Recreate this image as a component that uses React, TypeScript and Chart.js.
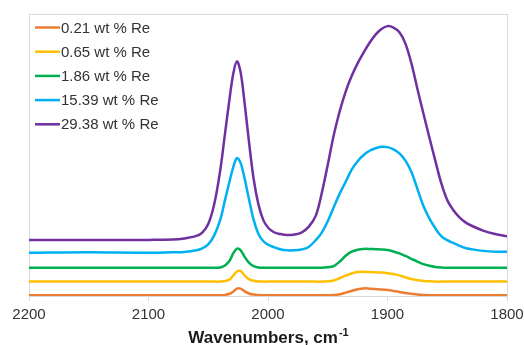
import React, { useEffect, useRef } from "react";
import { Chart, registerables } from "chart.js";

Chart.register(...registerables);

const wavenumbers = [
  2200, 2150, 2100, 2080, 2070, 2060, 2055, 2050, 2045, 2040, 2036, 2032, 2029, 2026, 2023, 2020,
  2016, 2012, 2008, 2004, 2000, 1995, 1990, 1984, 1978, 1972, 1966, 1960, 1955, 1950, 1945, 1940,
  1935, 1930, 1925, 1920, 1915, 1910, 1905, 1900, 1895, 1890, 1885, 1880, 1875, 1870, 1865, 1860,
  1855, 1850, 1845, 1840, 1835, 1830, 1820, 1810, 1800,
];

const re029_38 = [
  19.9, 19.9, 19.9, 20.0, 20.4, 21.3, 22.5, 25.5, 32.5, 44.5, 57.5, 70.5, 79.0, 83.2, 79.5, 70.0,
  55.0, 41.5, 32.5, 27.0, 24.3, 22.6, 22.0, 21.6, 21.8, 22.5, 24.5, 28.5, 36.5, 46.5, 57.0, 65.5,
  72.5, 78.0, 82.5, 86.3, 89.8, 92.7, 94.7, 95.7, 95.2, 93.5, 89.5, 82.5, 73.5, 64.8, 56.3, 48.0,
  40.0, 34.0, 30.5, 28.0, 26.2, 25.0, 23.2, 22.0, 21.2,
];

const re15_39 = [
  15.3, 15.5, 15.3, 15.5, 15.6, 16.2, 16.9, 18.3, 21.5, 27.0, 34.0, 41.0, 45.8, 48.9, 47.3, 42.5,
  34.5, 27.0, 22.0, 19.5, 18.2, 17.3, 16.6, 16.2, 16.2, 16.5, 17.4, 19.8, 22.5, 26.5, 31.5, 36.3,
  40.5, 44.8, 47.8, 50.0, 51.5, 52.4, 52.9, 52.8, 52.0, 50.6, 48.0, 44.0, 38.0, 32.0, 27.5, 24.0,
  21.2, 19.8, 18.8, 17.8, 17.0, 16.6, 16.0, 15.7, 15.7,
];

const re1_86 = [
  10.0, 10.0, 10.0, 10.0, 10.0, 10.0, 10.0, 10.0, 10.0, 10.1, 10.8, 12.6, 15.2, 16.8, 16.3, 14.2,
  11.8, 10.6, 10.1, 10.0, 10.0, 10.0, 10.0, 10.0, 10.0, 10.0, 10.0, 10.0, 10.0, 10.2, 10.6, 12.2,
  14.3, 15.7, 16.4, 16.7, 16.7, 16.6, 16.5, 16.3, 15.8, 15.1, 14.2, 13.2, 12.2, 11.3, 10.7, 10.3,
  10.1, 10.0, 10.0, 10.0, 10.0, 10.0, 10.0, 10.0, 10.0,
];

const re0_65 = [
  5.1, 5.1, 5.1, 5.1, 5.1, 5.1, 5.1, 5.1, 5.1, 5.1, 5.3, 5.9, 7.3, 8.7, 8.9, 7.5,
  6.0, 5.4, 5.15, 5.1, 5.1, 5.1, 5.1, 5.1, 5.1, 5.1, 5.1, 5.1, 5.1, 5.2, 5.5, 6.3,
  7.2, 8.0, 8.5, 8.6, 8.5, 8.4, 8.3, 8.1, 7.8, 7.3, 6.6, 6.0, 5.6, 5.35, 5.2, 5.1,
  5.1, 5.1, 5.1, 5.1, 5.1, 5.1, 5.1, 5.1, 5.1,
];

const re0_21 = [
  0.3, 0.3, 0.3, 0.3, 0.3, 0.3, 0.3, 0.3, 0.3, 0.3, 0.4, 0.8, 1.6, 2.6, 2.6, 1.8,
  0.9, 0.5, 0.35, 0.3, 0.3, 0.3, 0.3, 0.3, 0.3, 0.3, 0.3, 0.3, 0.3, 0.3, 0.35, 0.6,
  1.2, 1.8, 2.4, 2.7, 2.6, 2.45, 2.3, 2.1, 1.8, 1.45, 1.1, 0.8, 0.5, 0.35, 0.3, 0.3,
  0.3, 0.3, 0.3, 0.3, 0.3, 0.3, 0.3, 0.3, 0.3,
];

const seriesLabels = ["0.21 wt % Re", "0.65 wt % Re", "1.86 wt % Re", "15.39 wt % Re", "29.38 wt % Re"];
const seriesValues = [re0_21, re0_65, re1_86, re15_39, re029_38];
const seriesColors = ["#ED7D31", "#FFC000", "#00B050", "#00B0F0", "#7030A0"];

const xTitle = "Wavenumbers, cm";
const xTitleSup = "-1";

const FONT = '"Liberation Sans", Arial, sans-serif';

const framePlugin = {
  id: "frame",
  beforeDatasetsDraw(chart: any) {
    const { ctx, chartArea } = chart;
    ctx.save();
    ctx.strokeStyle = "#d9d9d9";
    ctx.lineWidth = 1;
    ctx.strokeRect(
      Math.round(chartArea.left) + 0.5,
      Math.round(chartArea.top) + 0.5,
      Math.round(chartArea.right - chartArea.left),
      Math.round(chartArea.bottom - chartArea.top)
    );
    ctx.restore();
  },
};

const legendPlugin = {
  id: "customLegend",
  afterDraw(chart: any) {
    const { ctx } = chart;
    ctx.save();
    ctx.font = `15px ${FONT}`;
    ctx.textBaseline = "middle";
    ctx.textAlign = "left";
    chart.data.datasets.forEach((ds: any, i: number) => {
      const y = 27.5 + i * 24.2;
      ctx.strokeStyle = ds.borderColor;
      ctx.lineWidth = 2.5;
      ctx.beginPath();
      ctx.moveTo(35, y);
      ctx.lineTo(60, y);
      ctx.stroke();
      ctx.fillStyle = "#333333";
      ctx.fillText(ds.label, 61, y + 1);
    });
    ctx.restore();
  },
};

const titlePlugin = {
  id: "xTitle",
  afterDraw(chart: any) {
    const { ctx, chartArea } = chart;
    ctx.save();
    const cx = (chartArea.left + chartArea.right) / 2;
    ctx.font = `bold 17px ${FONT}`;
    const w1 = ctx.measureText(xTitle).width;
    ctx.font = `bold 11px ${FONT}`;
    const w2 = ctx.measureText(xTitleSup).width;
    const x0 = cx - (w1 + w2) / 2;
    ctx.fillStyle = "#1a1a1a";
    ctx.textBaseline = "alphabetic";
    ctx.textAlign = "left";
    ctx.font = `bold 17px ${FONT}`;
    ctx.fillText(xTitle, x0, 343);
    ctx.font = `bold 11px ${FONT}`;
    ctx.fillText(xTitleSup, x0 + w1 + 1, 336);
    ctx.restore();
  },
};

export default function App() {
  const canvasRef = useRef<HTMLCanvasElement | null>(null);

  useEffect(() => {
    if (!canvasRef.current) return;
    const chart = new Chart(canvasRef.current, {
      type: "line",
      data: {
        datasets: seriesLabels.map((label, i) => ({
          label,
          data: wavenumbers.map((w, j) => ({ x: w, y: seriesValues[i][j] })),
          borderColor: seriesColors[i],
          backgroundColor: seriesColors[i],
          borderWidth: 2.5,
          pointRadius: 0,
          tension: 0.35,
          fill: false,
        })),
      },
      options: {
        animation: false,
        responsive: false,
        maintainAspectRatio: false,
        layout: { padding: { left: 29, right: 17, top: 14, bottom: 0 } },
        plugins: {
          legend: { display: false },
          tooltip: { enabled: false },
          title: { display: false },
        },
        scales: {
          x: {
            type: "linear",
            min: 1800,
            max: 2200,
            reverse: true,
            afterFit: (scale: any) => {
              scale.height = 49;
              scale.paddingLeft = 0;
              scale.paddingRight = 0;
            },
            ticks: {
              stepSize: 100,
              padding: 5,
              color: "#333333",
              font: { family: FONT, size: 15 },
              maxRotation: 0,
              callback: (v: any) => String(v),
            },
            grid: {
              drawOnChartArea: false,
              drawTicks: true,
              tickLength: 5,
              color: "#d9d9d9",
            },
            border: { display: false },
          },
          y: {
            display: false,
            min: 0,
            max: 100,
          },
        },
      },
      plugins: [framePlugin, legendPlugin, titlePlugin],
    });
    return () => chart.destroy();
  }, []);

  return (
    <div style={{ position: "absolute", left: 0, top: 0, width: 524, height: 345, background: "#fff" }}>
      <canvas ref={canvasRef} width={524} height={345} />
    </div>
  );
}
